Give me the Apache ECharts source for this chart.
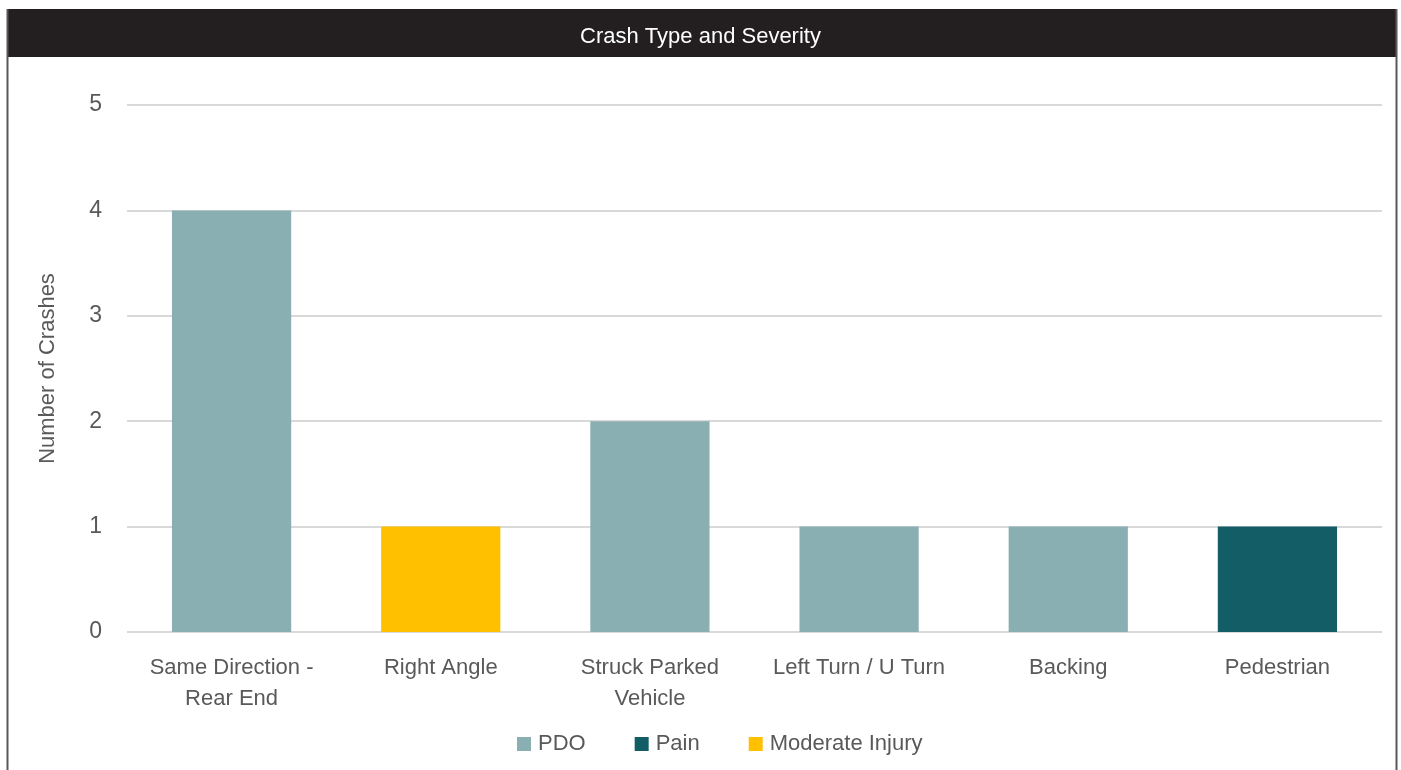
<!DOCTYPE html>
<html>
<head>
<meta charset="utf-8">
<style>
  html, body { margin: 0; padding: 0; background: #fff; }
  #chart { width: 1401px; height: 770px; }
</style>
<script src="https://cdn.jsdelivr.net/npm/echarts@6/dist/echarts.min.js"></script>
</head>
<body>
<div id="chart"></div>
<script>
// crash types along the x axis
const categories = ['Same Direction -\nRear End', 'Right Angle', 'Struck Parked\nVehicle', 'Left Turn / U Turn', 'Backing', 'Pedestrian'];
// stacked severity counts
const pdo = [4, 0, 2, 1, 1, 0];
const pain = [0, 0, 0, 0, 0, 1];
const moderateInjury = [0, 1, 0, 0, 0, 0];
const yTicks = [0, 1, 2, 3, 4, 5];

const font = "'Liberation Sans Narrow', 'Arial Narrow', 'Liberation Sans', sans-serif";
const textColor = '#595959';

let myChart = echarts.init(document.getElementById('chart'));

myChart.setOption({
    animation: false,
    textStyle: {fontFamily: font},
    // black title bar + side borders
    graphic: [
        {type: 'rect', shape: {x: 7, y: 9, width: 1390, height: 48}, style: {fill: '#231F20'}},
        {type: 'line', shape: {x1: 7.5, y1: 9, x2: 7.5, y2: 770}, style: {stroke: '#595959', lineWidth: 2}},
        {type: 'line', shape: {x1: 1396.5, y1: 9, x2: 1396.5, y2: 770}, style: {stroke: '#595959', lineWidth: 2}}
    ],
    title: {
        text: 'Crash Type and Severity',
        left: 'center',
        top: 21,
        textStyle: {color: '#fff', fontSize: 22, fontWeight: 'normal', fontFamily: font}
    },
    legend: {
        left: 512,
        top: 728,
        itemWidth: 14,
        itemHeight: 14,
        itemGap: 49,
        icon: 'rect',
        textStyle: {color: textColor, fontSize: 22, fontFamily: font, padding: [0, 0, 0, 2]},
        data: ['PDO', 'Pain', 'Moderate Injury']
    },
    grid: {left: 127, right: 19, top: 105, bottom: 138, containLabel: false},
    xAxis: {
        type: 'category',
        data: categories,
        axisTick: {show: false},
        axisLine: {show: false},
        axisLabel: {
            interval: 0,
            color: textColor,
            fontSize: 22,
            lineHeight: 31,
            margin: 20,
            fontFamily: font
        }
    },
    yAxis: {
        type: 'value',
        min: yTicks[0],
        max: yTicks[yTicks.length - 1],
        interval: 1,
        name: 'Number of Crashes',
        nameLocation: 'middle',
        nameGap: 68,
        nameTextStyle: {color: textColor, fontSize: 22, fontFamily: font},
        axisLabel: {color: textColor, fontSize: 23, margin: 25, fontFamily: font},
        splitLine: {lineStyle: {color: '#D9D9D9', width: 2}}
    },
    series: [
        {name: 'PDO', type: 'bar', stack: 'sev', data: pdo, color: '#8AAFB3', barWidth: '57%'},
        {name: 'Pain', type: 'bar', stack: 'sev', data: pain, color: '#135E66'},
        {name: 'Moderate Injury', type: 'bar', stack: 'sev', data: moderateInjury, color: '#FFC000'}
    ]
});
</script>
</body>
</html>
